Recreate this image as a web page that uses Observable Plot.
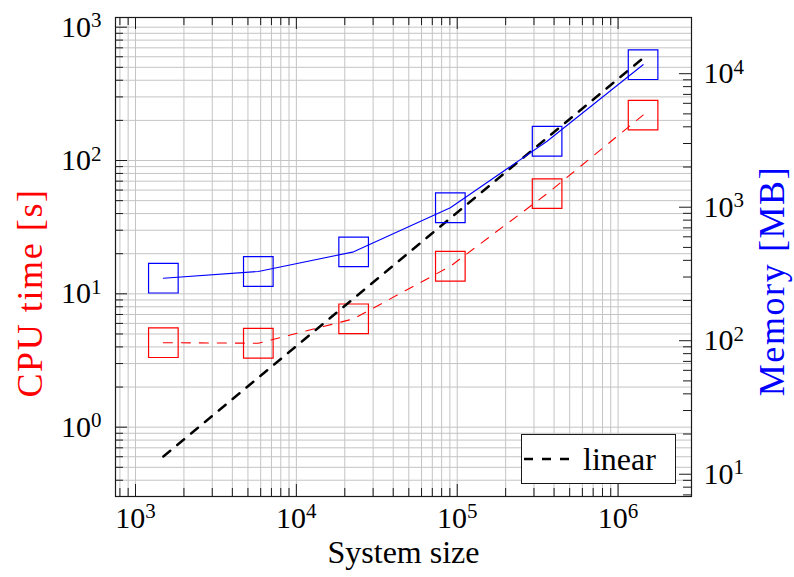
<!DOCTYPE html>
<html>
<head>
<meta charset="utf-8">
<script src="https://cdn.jsdelivr.net/npm/d3@7"></script>
<script src="https://cdn.jsdelivr.net/npm/@observablehq/plot@0.6"></script>
<style>
  html, body { margin: 0; padding: 0; background: #fff; }
  #chart { position: relative; width: 794px; height: 577px; font-family: "Liberation Serif", "Times New Roman", serif; }
  #chart > svg { position: absolute; left: 0; top: 0; }
  #legend {
    position: absolute; box-sizing: border-box; left: 521px; top: 434px; width: 155px; height: 50px;
    border: 1.2px solid #1a1a1a; background: #fff; display: flex; align-items: center;
    font-size: 32px; color: #000; padding-left: 1px;
  }
  #legend svg { display: block; margin-right: 12px; }
</style>
</head>
<body>
<div id="chart"></div>
<script>
// Benchmark: CPU time and memory versus system size (log-log, two y axes)
const systemSize = [1490, 5800, 22700, 90600, 362000, 1430000];
const cpuTime    = [4.30, 4.26, 6.5, 16.1, 56.4, 219];     // seconds
const memoryMB   = [294, 330, 463, 991, 3120, 11680];      // megabytes

// reference slope-1 line ("linear"), in CPU-time units
const linearSize = [1490, 1430000];
const linearTime = [0.603, 586];

// axis ranges and labelled decades
const xDomain   = [751, 2.86e6];
const cpuDomain = [0.302, 1182];
const memDomain = [6.81, 26360];
const xMajor   = [1e3, 1e4, 1e5, 1e6];
const cpuMajor = [1e0, 1e1, 1e2, 1e3];
const memMajor = [1e1, 1e2, 1e3, 1e4];

const W = 794, H = 577;
const M = { top: 17, right: 103, bottom: 81, left: 115 };
const FW = W - M.left - M.right;
const FH = H - M.top - M.bottom;
const MINOR = 8, MAJOR = 12;
const GRID = "#c4c4c4";
const INK = "#1a1a1a";
const SERIF = '"Liberation Serif", "Times New Roman", serif';
const TICK_FONT = 30, XLABEL_FONT = 32, YLABEL_FONT = 36;

// minor ticks 2..9 inside each decade, plus the ones just below the first decade
function minorTicks(major, lo) {
  const out = [];
  for (let m = 2; m <= 9; m++) if (major[0] / 10 * m >= lo) out.push(major[0] / 10 * m);
  for (let i = 0; i < major.length - 1; i++)
    for (let m = 2; m <= 9; m++) out.push(major[i] * m);
  return out;
}
const xMinor = minorTicks(xMajor, xDomain[0]);
const cpuMinor = minorTicks(cpuMajor, cpuDomain[0]);
const memMinor = minorTicks(memMajor, memDomain[0]);

const rows = systemSize.map((x, i) => ({ size: x, cpu: cpuTime[i], mem: memoryMB[i] }));
const linearRows = linearSize.map((x, i) => ({ size: x, t: linearTime[i] }));

const powerLabel = d => "10^" + Math.round(Math.log10(d));

// turn "10^k" tick labels into 10 with a raised exponent
function raiseExponents(svg) {
  d3.select(svg).selectAll("text").each(function () {
    const m = /^10\^(-?\d+)$/.exec(this.textContent);
    if (!m) return;
    const t = d3.select(this);
    t.text(null);
    t.append("tspan").text("10");
    t.append("tspan").attr("dy", "-0.45em").attr("font-size", "0.7em").text(m[1]);
  });
}

// the rotated axis titles are set a little wider
function spaceTitles(svg, titles) {
  d3.select(svg).selectAll("text")
    .filter(function () { return titles.includes(this.textContent); })
    .style("letter-spacing", "1.6px");
}

const shared = {
  width: W, height: H,
  marginTop: M.top, marginRight: M.right, marginBottom: M.bottom, marginLeft: M.left,
  x: { type: "log", domain: xDomain, axis: null, label: null }
};

// main axes: grid, x axis, CPU-time axis, CPU series and the linear guide
const cpuPlot = Plot.plot({
  ...shared,
  y: { type: "log", domain: cpuDomain, axis: null, label: null },
  style: { fontFamily: SERIF, fontSize: TICK_FONT + "px", background: "white", color: "#000", overflow: "visible" },
  marks: [
    Plot.ruleX([...xMinor, ...xMajor], { x: d => d, stroke: GRID, strokeWidth: 1 }),
    Plot.ruleY([...cpuMinor, ...cpuMajor], { y: d => d, stroke: GRID, strokeWidth: 1 }),
    Plot.tickX(xMinor, { x: d => d, insetTop: FH - MINOR, stroke: INK }),
    Plot.tickX(xMajor, { x: d => d, insetTop: FH - MAJOR, stroke: INK }),
    Plot.tickX(xMinor, { x: d => d, insetBottom: FH - MINOR, stroke: INK }),
    Plot.tickX(xMajor, { x: d => d, insetBottom: FH - MAJOR, stroke: INK }),
    Plot.tickY(cpuMinor, { y: d => d, insetRight: FW - MINOR, stroke: INK }),
    Plot.tickY(cpuMajor, { y: d => d, insetRight: FW - MAJOR, stroke: INK }),
    Plot.frame({ stroke: INK, strokeWidth: 1.2 }),
    Plot.line(rows, { x: "size", y: "cpu", stroke: "#ff0000", strokeWidth: 1.1, strokeDasharray: "9,9" }),
    Plot.dot(rows, { x: "size", y: "cpu", symbol: "square", r: 16.7, stroke: "#ff0000", strokeWidth: 1.2, fill: "none" }),
    Plot.line(linearRows, { x: "size", y: "t", stroke: "#000", strokeWidth: 2.4, strokeDasharray: "9,9" }),
    Plot.axisX(xMajor, { anchor: "bottom", tickSize: 0, tickPadding: 10, tickFormat: powerLabel, label: null, fontSize: TICK_FONT }),
    Plot.axisY(cpuMajor, { anchor: "left", tickSize: 0, tickPadding: 14, tickFormat: powerLabel, label: null, fontSize: TICK_FONT }),
    Plot.text(["System size"], { text: d => d, frameAnchor: "bottom", textAnchor: "middle", dy: 66, fontSize: XLABEL_FONT, fill: "#000" }),
    Plot.text(["CPU time [s]"], { text: d => d, frameAnchor: "left", textAnchor: "middle", dx: -85, dy: 36, rotate: -90, fontSize: YLABEL_FONT, fill: "#ff0000" })
  ]
});

// second y axis on the right: memory series
const memPlot = Plot.plot({
  ...shared,
  y: { type: "log", domain: memDomain, axis: null, label: null },
  style: { fontFamily: SERIF, fontSize: TICK_FONT + "px", background: "transparent", color: "#000", overflow: "visible" },
  marks: [
    Plot.tickY(memMinor, { y: d => d, insetLeft: FW - MINOR, stroke: INK }),
    Plot.tickY(memMajor, { y: d => d, insetLeft: FW - MAJOR, stroke: INK }),
    Plot.line(rows, { x: "size", y: "mem", stroke: "#0000ff", strokeWidth: 1.1 }),
    Plot.dot(rows, { x: "size", y: "mem", symbol: "square", r: 16.7, stroke: "#0000ff", strokeWidth: 1.2, fill: "none" }),
    Plot.axisY(memMajor, { anchor: "right", tickSize: 0, tickPadding: 12, tickFormat: powerLabel, label: null, fontSize: TICK_FONT }),
    Plot.text(["Memory [MB]"], { text: d => d, frameAnchor: "right", textAnchor: "middle", dx: 81, dy: 24, rotate: -90, fontSize: YLABEL_FONT, fill: "#0000ff" })
  ]
});

raiseExponents(cpuPlot);
raiseExponents(memPlot);
spaceTitles(cpuPlot, ["CPU time [s]"]);
spaceTitles(memPlot, ["Memory [MB]"]);

const chart = document.getElementById("chart");
chart.appendChild(cpuPlot);
chart.appendChild(memPlot);

// legend entry for the dashed guide line
const legend = document.createElement("div");
legend.id = "legend";
const sample = d3.create("svg").attr("width", 48).attr("height", 10);
sample.append("line").attr("x1", 1).attr("x2", 47).attr("y1", 5).attr("y2", 5)
  .attr("stroke", "#000").attr("stroke-width", 2.4).attr("stroke-dasharray", "9,9");
legend.appendChild(sample.node());
const label = document.createElement("span");
label.textContent = "linear";
legend.appendChild(label);
chart.appendChild(legend);
</script>
</body>
</html>
